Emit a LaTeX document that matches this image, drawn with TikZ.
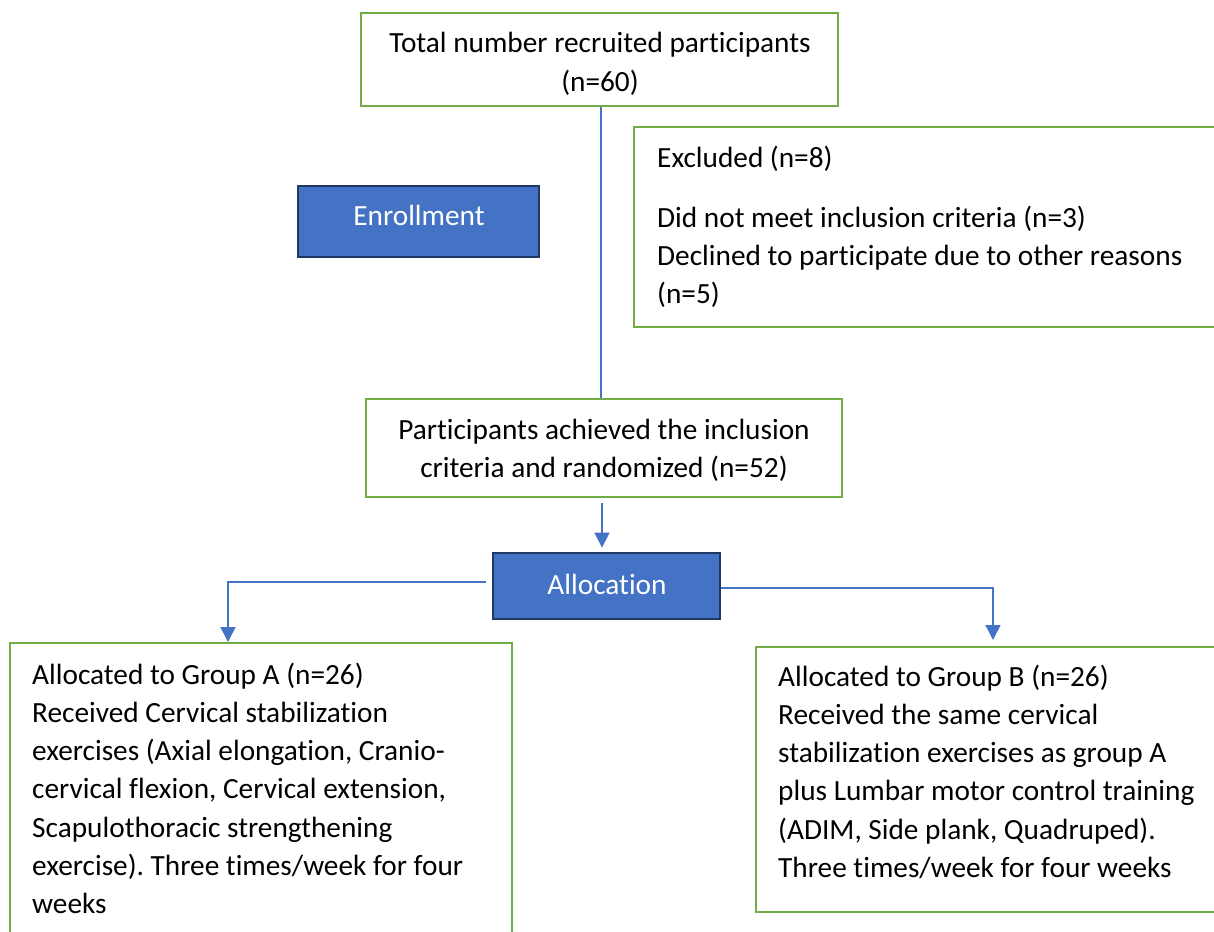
\documentclass[tikz,border=0pt]{standalone}
\usepackage{fontspec}
\setmainfont{Carlito}[Ligatures=NoCommon]
\usetikzlibrary{arrows.meta}
\definecolor{gborder}{HTML}{70AD47}
\definecolor{bfill}{HTML}{4472C4}
\definecolor{bnavy}{HTML}{203864}
\frenchspacing
\begin{document}
\begin{tikzpicture}[x=1pt,y=-1pt,
  gbox/.style={draw=gborder,line width=2.8pt,fill=white,rectangle,inner sep=0pt},
  bbox/.style={draw=bnavy,line width=2.8pt,fill=bfill,rectangle,inner sep=0pt},
  txt/.style={inner sep=0pt,font=\fontsize{29.3}{38.3}\selectfont,text=black},
  wtxt/.style={inner sep=0pt,font=\fontsize{29.3}{38.3}\selectfont,text=white},
  conn/.style={draw=bfill,line width=1.4pt},
  arr/.style={conn,-{Triangle[width=15pt,length=15pt]}}]
\useasboundingbox (0,0) rectangle (1214,931);
% boxes
\node[gbox,minimum width=477pt,minimum height=93pt] (top) at (599.5,59.5) {};
\node[gbox,minimum width=630pt,minimum height=200pt] (excl) at (949,227) {};
\node[bbox,minimum width=241pt,minimum height=71pt] (enr) at (418.5,221.5) {};
\node[gbox,minimum width=476pt,minimum height=98pt] (part) at (604,448) {};
\node[bbox,minimum width=227pt,minimum height=66pt] (alloc) at (606.5,586) {};
\node[gbox,minimum width=502pt,minimum height=357pt] (ga) at (261,821.5) {};
\node[gbox,minimum width=504pt,minimum height=265pt] (gb) at (1008,779.5) {};
% texts
\node[txt,anchor=base] (toptxt) at (600,53) {\parbox[t]{477pt}{\centering Total number recruited participants\\(n=60)}};
\node[txt,anchor=base west] (excltxt) at (657,167) {\parbox[t]{600pt}{\raggedright Excluded (n=8)\\[21.7pt]Did not meet inclusion criteria (n=3)\\Declined to participate due to other reasons\\(n=5)}};
\node[wtxt,anchor=base] (enrtxt) at (419,225) {Enrollment};
\node[txt,anchor=base] (parttxt) at (604,439) {\parbox[t]{476pt}{\centering Participants achieved the inclusion\\criteria and randomized (n=52)}};
\node[wtxt,anchor=base] (alloctxt) at (607,594) {Allocation};
\node[txt,anchor=base west] (gatxt) at (32,684) {\parbox[t]{480pt}{\raggedright Allocated to Group A (n=26)\\Received Cervical stabilization\\exercises (Axial elongation, Cranio-\\cervical flexion, Cervical extension,\\Scapulothoracic strengthening\\exercise). Three times/week for four\\weeks}};
\node[txt,anchor=base west] (gbtxt) at (778,686) {\parbox[t]{480pt}{\raggedright Allocated to Group B (n=26)\\Received the same cervical\\stabilization exercises as group A\\plus Lumbar motor control training\\(ADIM, Side plank, Quadruped).\\Three times/week for four weeks}};
% connectors
\coordinate (aL) at (228,642);
\coordinate (aR) at (993,640);
\coordinate (lstart) at (486,582);
\draw[conn] ([xshift=1.5pt]top.south) -- ([xshift=1.5pt]top.south |- part.north);
\draw[arr,shorten <=5pt,shorten >=4pt] ([xshift=-2pt]part.south) -- ([xshift=-2pt]part.south |- alloc.north);
\draw[arr] (lstart) -| (aL);
\draw[arr] ([yshift=-2pt]alloc.east) -| (aR);
\end{tikzpicture}
\end{document}
